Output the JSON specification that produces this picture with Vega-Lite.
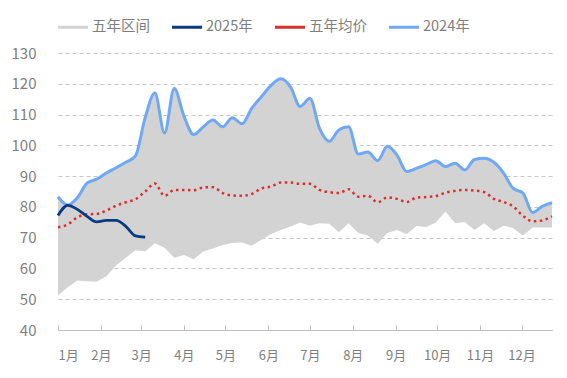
{
  "$schema": "https://vega.github.io/schema/vega-lite/v6.json",
  "width": 494,
  "height": 277,
  "autosize": "none",
  "padding": {"left": 58, "top": 53, "right": 15, "bottom": 48},
  "background": "white",
  "config": {
    "font": "Noto Sans CJK SC",
    "view": {"stroke": null}
  },
  "data": {
    "values": [
      {"date": "2024-01-01", "low": 51.2, "high": 83.3, "avg": 73.4, "y2024": 83.3, "y2025": 77.2},
      {"date": "2024-01-08", "low": 53.9, "high": 80.6, "avg": 74.3, "y2024": 80.6, "y2025": 80.5},
      {"date": "2024-01-15", "low": 56.1, "high": 83.0, "avg": 76.6, "y2024": 83.0, "y2025": 79.2},
      {"date": "2024-01-22", "low": 55.8, "high": 87.7, "avg": 77.6, "y2024": 87.7, "y2025": 76.9},
      {"date": "2024-01-29", "low": 55.7, "high": 89.0, "avg": 77.7, "y2024": 89.0, "y2025": 75.1},
      {"date": "2024-02-05", "low": 57.5, "high": 91.0, "avg": 78.8, "y2024": 91.0, "y2025": 75.6},
      {"date": "2024-02-12", "low": 61.0, "high": 92.7, "avg": 80.4, "y2024": 92.7, "y2025": 75.6},
      {"date": "2024-02-19", "low": 63.5, "high": 94.5, "avg": 81.5, "y2024": 94.5, "y2025": 73.7},
      {"date": "2024-02-26", "low": 65.9, "high": 96.6, "avg": 82.5, "y2024": 96.6, "y2025": 70.6},
      {"date": "2024-03-04", "low": 65.5, "high": 109.0, "avg": 85.0, "y2024": 109.0, "y2025": 70.2},
      {"date": "2024-03-11", "low": 68.2, "high": 117.0, "avg": 87.6, "y2024": 117.0},
      {"date": "2024-03-18", "low": 66.7, "high": 104.0, "avg": 83.6, "y2024": 104.0},
      {"date": "2024-03-25", "low": 63.5, "high": 118.5, "avg": 85.5, "y2024": 118.5},
      {"date": "2024-04-01", "low": 64.4, "high": 109.5, "avg": 85.5, "y2024": 109.5},
      {"date": "2024-04-08", "low": 63.0, "high": 103.5, "avg": 85.4, "y2024": 103.5},
      {"date": "2024-04-15", "low": 65.5, "high": 106.0, "avg": 86.3, "y2024": 106.0},
      {"date": "2024-04-22", "low": 66.5, "high": 108.2, "avg": 86.4, "y2024": 108.2},
      {"date": "2024-04-29", "low": 67.6, "high": 106.0, "avg": 84.5, "y2024": 106.0},
      {"date": "2024-05-06", "low": 68.3, "high": 109.0, "avg": 83.7, "y2024": 109.0},
      {"date": "2024-05-13", "low": 68.4, "high": 107.0, "avg": 83.6, "y2024": 107.0},
      {"date": "2024-05-20", "low": 67.4, "high": 112.0, "avg": 84.2, "y2024": 112.0},
      {"date": "2024-05-27", "low": 69.3, "high": 115.8, "avg": 86.0, "y2024": 115.8},
      {"date": "2024-06-03", "low": 71.2, "high": 119.5, "avg": 86.6, "y2024": 119.5},
      {"date": "2024-06-10", "low": 72.5, "high": 121.6, "avg": 87.9, "y2024": 121.6},
      {"date": "2024-06-17", "low": 73.6, "high": 119.0, "avg": 87.9, "y2024": 119.0},
      {"date": "2024-06-24", "low": 74.9, "high": 112.6, "avg": 87.5, "y2024": 112.6},
      {"date": "2024-07-01", "low": 73.9, "high": 115.3, "avg": 87.5, "y2024": 115.3},
      {"date": "2024-07-08", "low": 74.7, "high": 105.5, "avg": 85.5, "y2024": 105.5},
      {"date": "2024-07-15", "low": 74.5, "high": 101.3, "avg": 84.8, "y2024": 101.3},
      {"date": "2024-07-22", "low": 71.8, "high": 105.0, "avg": 84.5, "y2024": 105.0},
      {"date": "2024-07-29", "low": 74.7, "high": 106.0, "avg": 85.7, "y2024": 106.0},
      {"date": "2024-08-05", "low": 71.5, "high": 97.2, "avg": 83.3, "y2024": 97.2},
      {"date": "2024-08-12", "low": 70.7, "high": 97.8, "avg": 83.6, "y2024": 97.8},
      {"date": "2024-08-19", "low": 68.0, "high": 95.0, "avg": 81.5, "y2024": 95.0},
      {"date": "2024-08-26", "low": 71.5, "high": 99.7, "avg": 83.1, "y2024": 99.7},
      {"date": "2024-09-02", "low": 72.5, "high": 96.8, "avg": 82.6, "y2024": 96.8},
      {"date": "2024-09-09", "low": 71.1, "high": 91.5, "avg": 81.6, "y2024": 91.5},
      {"date": "2024-09-16", "low": 73.8, "high": 92.5, "avg": 83.0, "y2024": 92.5},
      {"date": "2024-09-23", "low": 73.5, "high": 93.7, "avg": 83.2, "y2024": 93.7},
      {"date": "2024-09-30", "low": 74.9, "high": 95.0, "avg": 83.5, "y2024": 95.0},
      {"date": "2024-10-07", "low": 78.5, "high": 93.1, "avg": 84.6, "y2024": 93.1},
      {"date": "2024-10-14", "low": 74.7, "high": 94.2, "avg": 85.2, "y2024": 94.2},
      {"date": "2024-10-21", "low": 75.1, "high": 92.0, "avg": 85.5, "y2024": 92.0},
      {"date": "2024-10-28", "low": 72.5, "high": 95.4, "avg": 85.3, "y2024": 95.4},
      {"date": "2024-11-04", "low": 74.7, "high": 95.8, "avg": 84.8, "y2024": 95.8},
      {"date": "2024-11-11", "low": 72.2, "high": 94.5, "avg": 82.6, "y2024": 94.5},
      {"date": "2024-11-18", "low": 73.9, "high": 91.0, "avg": 81.6, "y2024": 91.0},
      {"date": "2024-11-25", "low": 73.1, "high": 86.0, "avg": 80.1, "y2024": 86.0},
      {"date": "2024-12-02", "low": 70.7, "high": 84.5, "avg": 77.1, "y2024": 84.5},
      {"date": "2024-12-09", "low": 73.3, "high": 78.2, "avg": 75.3, "y2024": 78.2},
      {"date": "2024-12-16", "low": 73.3, "high": 80.2, "avg": 75.6, "y2024": 80.2},
      {"date": "2024-12-23", "low": 73.3, "high": 81.4, "avg": 76.9, "y2024": 81.4}
    ]
  },
  "encoding": {
    "x": {
      "field": "date",
      "type": "temporal",
      "scale": {"type": "utc", "domain": ["2024-01-01", "2024-12-23"]},
      "axis": {
        "title": null,
        "tickCount": "month",
        "labelExpr": "utcFormat(datum.value, '%-m') + '月'",
        "labelOverlap": false,
        "grid": false,
        "domainColor": "#bfbfbf",
        "tickColor": "#bfbfbf",
        "tickSize": -5,
        "labelPadding": 24,
        "labelFontSize": 13,
        "labelColor": "#7f7f7f",
        "labelFont": "Noto Sans CJK SC"
      }
    }
  },
  "layer": [
    {
      "mark": {"type": "area", "opacity": 1},
      "encoding": {
        "y": {
          "field": "low",
          "type": "quantitative",
          "scale": {"domain": [40, 130], "nice": false, "zero": false},
          "axis": {"title": null, "values": [40, 50, 60, 70, 80, 90, 100, 110, 120, 130], "labelOverlap": false, "domain": false, "ticks": false, "labelPadding": 22, "labelFontSize": 15, "labelColor": "#7f7f7f", "gridColor": "#c6c6c6", "gridDash": [4, 3], "gridWidth": 1}
        },
        "y2": {"field": "high"},
        "color": {
          "datum": "五年区间",
          "scale": {"domain": ["五年区间", "2025年", "五年均价", "2024年"], "range": ["#d3d3d3", "#0b3a80", "#d9312b", "#6fa8f5"]},
          "legend": {
            "title": null, "orient": "top", "direction": "horizontal", "offset": 19,
            "symbolType": "M-1,-0.1H1V0.1H-1Z", "symbolSize": 900, "symbolStrokeWidth": 0,
            "labelFontSize": 14.5, "labelColor": "#7f7f7f", "labelOffset": 4, "columnPadding": 22,
            "encode": {"symbols": {
              "shape": {
                "condition": [
                  {"test": "datum.value === '五年区间'", "value": "M-1,-0.367H1V0.367H-1Z"},
                  {"test": "datum.value === '五年均价'", "value": "M-1,-0.083h0.167v0.167h-0.167Z M-0.667,-0.083h0.167v0.167h-0.167Z M-0.333,-0.083h0.167v0.167h-0.167Z M0,-0.083h0.167v0.167h-0.167Z M0.333,-0.083h0.167v0.167h-0.167Z M0.667,-0.083h0.167v0.167h-0.167Z"}
                ],
                "value": "M-1,-0.1H1V0.1H-1Z"
              },
              "opacity": {"value": 1},
              "fillOpacity": {"value": 1}
            }}
          }
        }
      }
    },
    {
      "mark": {"type": "line", "interpolate": "monotone", "strokeWidth": 2.5, "strokeDash": [2.5, 3.5], "color": "#d9312b"},
      "encoding": {
        "y": {
          "field": "avg",
          "type": "quantitative",
          "axis": {"title": null, "values": [40, 50, 60, 70, 80, 90, 100, 110, 120, 130], "labelOverlap": false, "domain": false, "ticks": false, "labelPadding": 22, "labelFontSize": 15, "labelColor": "#7f7f7f", "gridColor": "#c6c6c6", "gridDash": [4, 3], "gridWidth": 1}
        }
      }
    },
    {
      "mark": {"type": "line", "interpolate": "monotone", "strokeWidth": 3, "color": "#6fa8f5"},
      "encoding": {
        "y": {
          "field": "y2024",
          "type": "quantitative",
          "axis": {"title": null, "values": [40, 50, 60, 70, 80, 90, 100, 110, 120, 130], "labelOverlap": false, "domain": false, "ticks": false, "labelPadding": 22, "labelFontSize": 15, "labelColor": "#7f7f7f", "gridColor": "#c6c6c6", "gridDash": [4, 3], "gridWidth": 1}
        }
      }
    },
    {
      "mark": {"type": "line", "interpolate": "monotone", "strokeWidth": 2.8, "color": "#0b3a80"},
      "encoding": {
        "y": {
          "field": "y2025",
          "type": "quantitative",
          "axis": {"title": null, "values": [40, 50, 60, 70, 80, 90, 100, 110, 120, 130], "labelOverlap": false, "domain": false, "ticks": false, "labelPadding": 22, "labelFontSize": 15, "labelColor": "#7f7f7f", "gridColor": "#c6c6c6", "gridDash": [4, 3], "gridWidth": 1}
        }
      }
    }
  ]
}
